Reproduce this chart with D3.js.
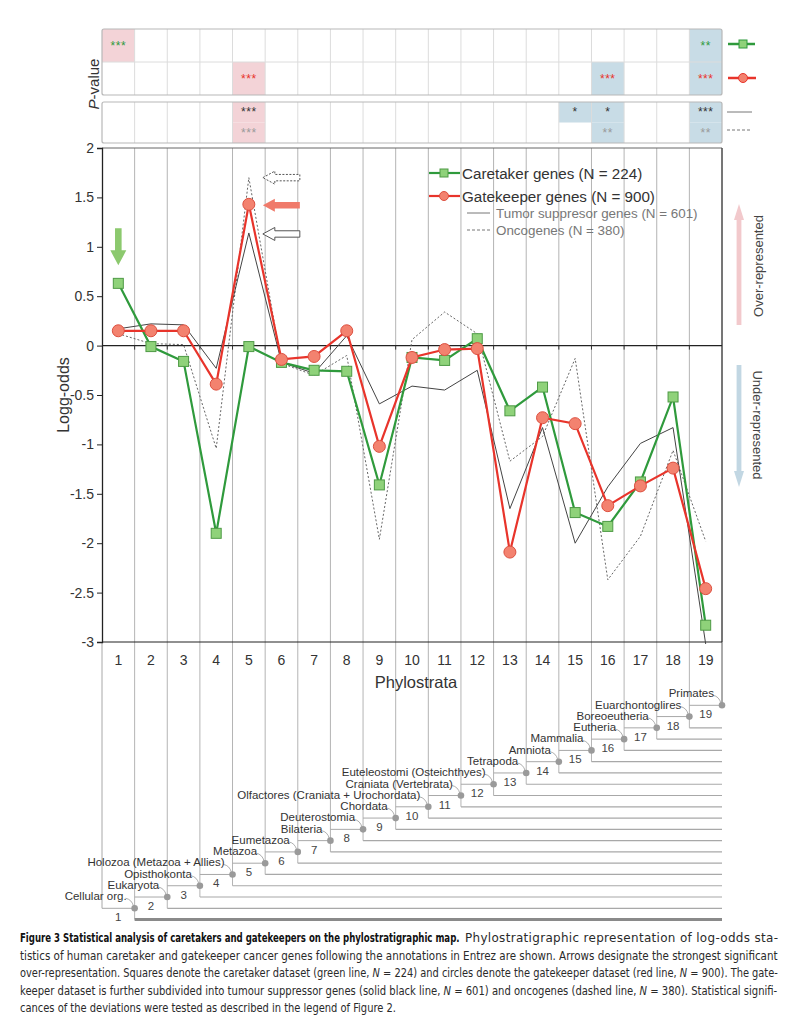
<!DOCTYPE html>
<html>
<head>
<meta charset="utf-8">
<script src="https://cdn.jsdelivr.net/npm/d3@7"></script>
<style>
  body { margin: 0; background: #fff; }
  svg { display: block; }
  text { font-family: "Liberation Sans", Arial, Helvetica, sans-serif; }
  .cap { font-family: "Liberation Sans Narrow", "DejaVu Sans Condensed", "Liberation Sans", sans-serif; }
</style>
</head>
<body>
<svg id="chart" width="790" height="1017"></svg>
<script>
// ---- data -----------------------------------------------------------
const strata = [1, 2, 3, 4, 5, 6, 7, 8, 9, 10, 11, 12, 13, 14, 15, 16, 17, 18, 19];

// log-odds per phylostratum
const caretaker       = [0.63, -0.01, -0.16, -1.90, -0.01, -0.17, -0.25, -0.26, -1.41, -0.12, -0.15, 0.07, -0.66, -0.42, -1.69, -1.83, -1.38, -0.52, -2.83];
const gatekeeper      = [0.15, 0.15, 0.15, -0.39, 1.43, -0.14, -0.11, 0.15, -1.02, -0.12, -0.04, -0.03, -2.09, -0.73, -0.79, -1.62, -1.42, -1.24, -2.46];
const tumorSuppressor = [0.17, 0.22, 0.21, -0.23, 1.14, -0.17, -0.28, 0.10, -0.59, -0.41, -0.45, -0.25, -1.65, -0.83, -2.00, -1.43, -0.99, -0.83, -3.02];
const oncogenes       = [0.12, 0.02, 0.01, -1.04, 1.70, -0.18, -0.30, -0.10, -1.96, 0.06, 0.34, 0.12, -1.17, -0.92, -0.13, -2.37, -1.93, -1.06, -1.98];

// significance per stratum: "+" over-represented, "-" under-represented
const caretakerSig  = ["+***", "", "", "", "", "", "", "", "", "", "", "", "", "", "", "", "", "", "-**"];
const gatekeeperSig = ["", "", "", "", "+***", "", "", "", "", "", "", "", "", "", "", "-***", "", "", "-***"];
const suppressorSig = ["", "", "", "", "+***", "", "", "", "", "", "", "", "", "", "-*", "-*", "", "", "-***"];
const oncogeneSig   = ["", "", "", "", "+***", "", "", "", "", "", "", "", "", "", "", "-**", "", "", "-**"];

const yTicks = [2, 1.5, 1, 0.5, 0, -0.5, -1, -1.5, -2, -2.5, -3];

const taxa = ["Cellular org.", "Eukaryota", "Opisthokonta", "Holozoa (Metazoa + Allies)", "Metazoa",
  "Eumetazoa", "Bilateria", "Deuterostomia", "Chordata", "Olfactores (Craniata + Urochordata)",
  "Craniata (Vertebrata)", "Euteleostomi (Osteichthyes)", "Tetrapoda", "Amniota", "Mammalia",
  "Eutheria", "Boreoeutheria", "Euarchontoglires", "Primates"];

const legendNames = ["Caretaker genes (N = 224)", "Gatekeeper genes (N = 900)",
  "Tumor suppresor genes (N = 601)", "Oncogenes (N = 380)"];

// ---- layout ---------------------------------------------------------
const svg = d3.select("#chart");
const L = 102, R = 722, T = 148, B = 642;

const x = d3.scaleBand().domain(strata).range([L, R]).paddingInner(0).paddingOuter(0);
const bw = x.bandwidth();
const cx = s => x(s) + bw / 2;
const bound = k => L + k * bw;          // column boundary k (0..19)
const y = d3.scaleLinear().domain([2, -3]).range([T, B]);

const GREEN = "#2f9a3c", GREEN_FILL = "#8fd27a";
const RED = "#e8342b", RED_FILL = "#f3826f";
const PINK = "#f3d3d7", BLUE = "#c8dce6";

// ---- P-value panels -------------------------------------------------
const panels = [
  { top: 29, bottom: 95, rows: [caretakerSig, gatekeeperSig], colors: [GREEN, RED], divider: true },
  { top: 102, bottom: 143, rows: [suppressorSig, oncogeneSig], colors: ["#333", "#9a9a9a"], divider: false }
];
panels.forEach(p => {
  const g = svg.append("g");
  const rh = (p.bottom - p.top) / 2;
  p.rows.forEach((row, ri) => {
    const ry = p.top + ri * rh;
    g.selectAll(null).data(strata.filter((s, i) => row[i] !== "")).enter()
      .append("rect")
      .attr("x", s => x(s)).attr("y", ry).attr("width", bw).attr("height", rh)
      .attr("fill", s => row[s - 1][0] === "+" ? PINK : BLUE);
  });
  g.selectAll(null).data(strata.slice(1)).enter().append("line")
    .attr("x1", s => x(s)).attr("x2", s => x(s))
    .attr("y1", p.top).attr("y2", p.bottom)
    .attr("stroke", "#dcdcdc").attr("stroke-width", 1);
  if (p.divider) {
    g.append("line").attr("x1", L).attr("x2", R)
      .attr("y1", p.top + rh).attr("y2", p.top + rh)
      .attr("stroke", "#dcdcdc");
  }
  p.rows.forEach((row, ri) => {
    const ry = p.top + ri * rh + rh / 2;
    g.selectAll(null).data(strata.filter((s, i) => row[i] !== "")).enter()
      .append("text")
      .attr("x", s => cx(s)).attr("y", ry + 4)
      .attr("text-anchor", "middle")
      .attr("font-size", 12).attr("letter-spacing", 0.5)
      .attr("fill", p.colors[ri])
      .text(s => row[s - 1].slice(1));
  });
  g.append("rect").attr("x", L).attr("y", p.top).attr("width", R - L).attr("height", p.bottom - p.top)
    .attr("rx", 2).attr("fill", "none").attr("stroke", "#b8b8b8").attr("stroke-width", 1.2);
});

// series keys next to the panels
const keyG = svg.append("g");
keyG.append("line").attr("x1", 728).attr("x2", 755).attr("y1", 44).attr("y2", 44)
  .attr("stroke", GREEN).attr("stroke-width", 2.5);
keyG.append("rect").attr("x", 739).attr("y", 40).attr("width", 8).attr("height", 8)
  .attr("fill", GREEN_FILL).attr("stroke", GREEN).attr("stroke-width", 1);
keyG.append("line").attr("x1", 728).attr("x2", 756).attr("y1", 78).attr("y2", 78)
  .attr("stroke", RED).attr("stroke-width", 2.5);
keyG.append("circle").attr("cx", 743).attr("cy", 78).attr("r", 4.5)
  .attr("fill", RED_FILL).attr("stroke", RED).attr("stroke-width", 1);
keyG.append("line").attr("x1", 727).attr("x2", 752).attr("y1", 112).attr("y2", 112)
  .attr("stroke", "#777").attr("stroke-width", 1);
keyG.append("line").attr("x1", 727).attr("x2", 752).attr("y1", 130).attr("y2", 130)
  .attr("stroke", "#777").attr("stroke-width", 1).attr("stroke-dasharray", "3,2");

// P-value axis title
svg.append("text")
  .attr("transform", "translate(99,84) rotate(-90)")
  .attr("text-anchor", "middle").attr("font-size", 15).attr("fill", "#333")
  .call(t => {
    t.append("tspan").attr("font-style", "italic").text("P");
    t.append("tspan").text("-value");
  });

// ---- phylostratigraphic tree below the plot -------------------------
const nodeY = d3.scaleLinear().domain([1, 19]).range([908.3, 705.3]);
const step = (nodeY(1) - nodeY(19)) / 18;
const tree = svg.append("g");
const treeStroke = "#a8a8a8";

// vertical boundaries running from the plot down into the tree
tree.append("line").attr("x1", bound(0)).attr("x2", bound(0))
  .attr("y1", B).attr("y2", nodeY(1)).attr("stroke", treeStroke);
tree.selectAll(null).data(strata).enter().append("line")
  .attr("x1", k => bound(k)).attr("x2", k => bound(k))
  .attr("y1", T).attr("y2", k => k === 19 ? nodeY(19) : nodeY(k) + step)
  .attr("stroke", k => k === 19 ? "#555" : "#b4b4b4").attr("stroke-width", 1);

// branches into each node
tree.selectAll(null).data(strata).enter().append("line")
  .attr("x1", k => bound(k - 1)).attr("x2", k => bound(k))
  .attr("y1", k => nodeY(k)).attr("y2", k => nodeY(k))
  .attr("stroke", treeStroke);
// lineages continuing to the right edge
tree.selectAll(null).data(strata.slice(0, 18)).enter().append("line")
  .attr("x1", k => bound(k)).attr("x2", R)
  .attr("y1", k => nodeY(k) + step).attr("y2", k => nodeY(k) + step)
  .attr("stroke", k => k === 1 ? "#8a8a8a" : treeStroke)
  .attr("stroke-width", k => k === 1 ? 3 : 1.2);
// leader lines from taxon labels
tree.selectAll(null).data(strata).enter().append("path")
  .attr("d", k => `M${bound(k) - 9},${nodeY(k) - 10} Q${bound(k) - 3},${nodeY(k) - 9} ${bound(k) - 1},${nodeY(k) - 2}`)
  .attr("fill", "none").attr("stroke", "#999").attr("stroke-width", 0.8);
// nodes
tree.selectAll(null).data(strata).enter().append("circle")
  .attr("cx", k => bound(k)).attr("cy", k => nodeY(k)).attr("r", 3.3)
  .attr("fill", "#9a9a9a");
// stratum numbers
tree.selectAll(null).data(strata).enter().append("text")
  .attr("x", k => cx(k)).attr("y", k => nodeY(k) + 13)
  .attr("text-anchor", "middle").attr("font-size", 11.5).attr("fill", "#444")
  .text(k => k);
// taxon names
tree.selectAll(null).data(strata).enter().append("text")
  .attr("x", k => bound(k) - 8).attr("y", k => nodeY(k) - 8)
  .attr("text-anchor", "end").attr("font-size", 11.5).attr("fill", "#333")
  .text(k => taxa[k - 1]);

// ---- main log-odds plot ---------------------------------------------
const plot = svg.append("g");

// frame
plot.append("line").attr("x1", L).attr("x2", R).attr("y1", T).attr("y2", T).attr("stroke", "#666");
plot.append("line").attr("x1", R).attr("x2", R).attr("y1", T).attr("y2", B).attr("stroke", "#444");
plot.append("line").attr("x1", L).attr("x2", R).attr("y1", B).attr("y2", B).attr("stroke", "#222").attr("stroke-width", 1.2);
plot.append("line").attr("x1", L).attr("x2", R).attr("y1", y(0)).attr("y2", y(0)).attr("stroke", "#222").attr("stroke-width", 1.2);
plot.selectAll(null).data(strata.slice(0, 18)).enter().append("line")
  .attr("x1", k => bound(k)).attr("x2", k => bound(k))
  .attr("y1", y(0)).attr("y2", y(0) + 4).attr("stroke", "#333");

// y axis
const yAxis = d3.axisLeft(y).tickValues(yTicks).tickSize(5).tickPadding(3).tickFormat(d => String(d));
plot.append("g").attr("transform", `translate(${L},0)`).call(yAxis)
  .call(g => g.select(".domain").attr("stroke", "#222").attr("stroke-width", 1.3))
  .call(g => g.selectAll(".tick line").attr("stroke", "#222"))
  .call(g => g.selectAll(".tick text").attr("font-size", 14).attr("fill", "#333")
    .attr("font-family", "Liberation Sans, Arial, sans-serif"));

// x tick labels
plot.selectAll(null).data(strata).enter().append("text")
  .attr("x", s => cx(s)).attr("y", B + 23)
  .attr("text-anchor", "middle").attr("font-size", 14).attr("fill", "#333")
  .text(s => s);

svg.append("text").attr("x", (L + R) / 2 + 4).attr("y", 688)
  .attr("text-anchor", "middle").attr("font-size", 16.5).attr("fill", "#333")
  .text("Phylostrata");
svg.append("text").attr("transform", `translate(69,${y(-0.5)}) rotate(-90)`)
  .attr("text-anchor", "middle").attr("font-size", 16).attr("fill", "#333")
  .text("Logg-odds");

// series lines
const line = vals => d3.line().x((d, i) => cx(strata[i])).y(d => y(d))(vals);

plot.append("path").attr("d", line(oncogenes)).attr("fill", "none")
  .attr("stroke", "#666").attr("stroke-width", 1).attr("stroke-dasharray", "2,2");
plot.append("path").attr("d", line(tumorSuppressor)).attr("fill", "none")
  .attr("stroke", "#444").attr("stroke-width", 1);

plot.append("path").attr("d", line(caretaker)).attr("fill", "none")
  .attr("stroke", GREEN).attr("stroke-width", 2.2);
plot.selectAll(null).data(caretaker).enter().append("rect")
  .attr("x", (d, i) => cx(strata[i]) - 5).attr("y", d => y(d) - 5)
  .attr("width", 10).attr("height", 10)
  .attr("fill", GREEN_FILL).attr("stroke", "#4e9a45").attr("stroke-width", 1);

plot.append("path").attr("d", line(gatekeeper)).attr("fill", "none")
  .attr("stroke", RED).attr("stroke-width", 2.2);
plot.selectAll(null).data(gatekeeper).enter().append("circle")
  .attr("cx", (d, i) => cx(strata[i])).attr("cy", d => y(d)).attr("r", 6)
  .attr("fill", RED_FILL).attr("stroke", "#dd5040").attr("stroke-width", 1);

// arrows marking the strongest significant over-representation
function hArrow(xTip, yc, len, fill, stroke, dash) {
  const sh = 3.2, hh = 6.5, hl = 12;
  const pts = [[xTip, yc], [xTip + hl, yc - hh], [xTip + hl, yc - sh], [xTip + len, yc - sh],
    [xTip + len, yc + sh], [xTip + hl, yc + sh], [xTip + hl, yc + hh]];
  plot.append("polygon").attr("points", pts.map(p => p.join(",")).join(" "))
    .attr("fill", fill).attr("stroke", stroke).attr("stroke-width", stroke === "none" ? 0 : 1)
    .attr("stroke-dasharray", dash || null);
}
const arrowX = cx(5) + 14;
hArrow(arrowX, y(gatekeeper[4]) + 1, 37, "#f07a6a", "none");
hArrow(arrowX, y(tumorSuppressor[4]) + 1, 37, "#fff", "#555");
hArrow(arrowX, y(oncogenes[4]), 37, "#fff", "#555", "2,1.5");

// green arrow pointing down at stratum 1
(() => {
  const xc = cx(1), tipY = y(caretaker[0]) - 18, top = tipY - 37, sh = 3.3, hh = 8, hl = 15;
  const pts = [[xc, tipY], [xc - hh, tipY - hl], [xc - sh, tipY - hl], [xc - sh, top],
    [xc + sh, top], [xc + sh, tipY - hl], [xc + hh, tipY - hl]];
  plot.append("polygon").attr("points", pts.map(p => p.join(",")).join(" ")).attr("fill", "#8cc96e");
})();

// legend
const lg = svg.append("g");
[[0, GREEN, "sq"], [1, RED, "ci"]].forEach(([i, col, m]) => {
  const ly = 173 + i * 23;
  lg.append("line").attr("x1", 429).attr("x2", 460).attr("y1", ly).attr("y2", ly)
    .attr("stroke", col).attr("stroke-width", 2.2);
  if (m === "sq") lg.append("rect").attr("x", 440).attr("y", ly - 4).attr("width", 8).attr("height", 8)
    .attr("fill", GREEN_FILL).attr("stroke", "#4e9a45");
  else lg.append("circle").attr("cx", 444).attr("cy", ly).attr("r", 4.5)
    .attr("fill", RED_FILL).attr("stroke", "#dd5040");
  lg.append("text").attr("x", 462).attr("y", ly + 5.5).attr("font-size", 15.2).attr("fill", "#333")
    .text(legendNames[i]);
});
[[2, null], [3, "3,2"]].forEach(([i, dash]) => {
  const ly = 213 + (i - 2) * 17;
  lg.append("line").attr("x1", 467).attr("x2", 490).attr("y1", ly).attr("y2", ly)
    .attr("stroke", "#777").attr("stroke-dasharray", dash);
  lg.append("text").attr("x", 496).attr("y", ly + 4.5).attr("font-size", 13.4).attr("fill", "#777")
    .text(legendNames[i]);
});

// over / under-represented indicators
(() => {
  const g = svg.append("g");
  const vArrow = (xc, y0, y1, fill) => {
    const dir = Math.sign(y1 - y0), sh = 2.4, hh = 5, hl = 16;
    const pts = [[xc, y1], [xc - hh, y1 - dir * hl], [xc - sh, y1 - dir * hl], [xc - sh, y0],
      [xc + sh, y0], [xc + sh, y1 - dir * hl], [xc + hh, y1 - dir * hl]];
    g.append("polygon").attr("points", pts.map(p => p.join(",")).join(" ")).attr("fill", fill);
  };
  vArrow(739, 325, 204, "#f2c9cc");
  vArrow(739, 365, 487, "#c2d7e3");
  g.append("text").attr("transform", "translate(763,266) rotate(-90)")
    .attr("text-anchor", "middle").attr("font-size", 13).attr("fill", "#444").text("Over-represented");
  g.append("text").attr("transform", "translate(753,425) rotate(90)")
    .attr("text-anchor", "middle").attr("font-size", 13).attr("fill", "#444").text("Under-represented");
})();

// ---- caption ----------------------------------------------------------
const cap = svg.append("g").attr("class", "cap");
const capY = li => 942 + li * 17.6;
const CAP_SIZE = 12.8;

// fit a text element into [x0, x0 + width]: squeeze glyphs when too long,
// otherwise stretch them a little and justify the rest with word/letter spacing
function fitText(sel, x0, yBase, width) {
  const natural = sel.node().getComputedTextLength();
  const k = Math.min(width / natural, 1.04);
  sel.attr("x", 0).attr("y", 0)
    .attr("transform", `translate(${x0},${yBase}) scale(${k},1)`);
  if (width / natural > k) {
    sel.attr("textLength", width / k).attr("lengthAdjust", "spacing");
  }
}

// first line: bold title followed by regular text
fitText(cap.append("text").attr("class", "cap")
  .attr("font-size", CAP_SIZE).attr("font-weight", "bold").attr("fill", "#111")
  .text("Figure 3 Statistical analysis of caretakers and gatekeepers on the phylostratigraphic map."),
  20, capY(0), 440);
fitText(cap.append("text").attr("class", "cap")
  .attr("font-size", CAP_SIZE).attr("fill", "#2a2a2a")
  .text("Phylostratigraphic representation of log-odds sta-"),
  465, capY(0), 313);

const capLines = [
  [["", "tistics of human caretaker and gatekeeper cancer genes following the annotations in Entrez are shown. Arrows designate the strongest significant"]],
  [["", "over-representation. Squares denote the caretaker dataset (green line, "], ["i", "N"], ["", " = 224) and circles denote the gatekeeper dataset (red line, "], ["i", "N"], ["", " = 900). The gate-"]],
  [["", "keeper dataset is further subdivided into tumour suppressor genes (solid black line, "], ["i", "N"], ["", " = 601) and oncogenes (dashed line, "], ["i", "N"], ["", " = 380). Statistical signifi-"]],
  [["", "cances of the deviations were tested as described in the legend of Figure 2."]]
];
const capWidths = [758, 758, 758, 376];
capLines.forEach((parts, li) => {
  const t = cap.append("text").attr("class", "cap")
    .attr("font-size", CAP_SIZE).attr("fill", "#2a2a2a");
  parts.forEach(([st, s]) => {
    const sp = t.append("tspan").text(s);
    if (st === "i") sp.attr("font-style", "italic");
  });
  fitText(t, 20, capY(li + 1), capWidths[li]);
});
</script>
</body>
</html>
